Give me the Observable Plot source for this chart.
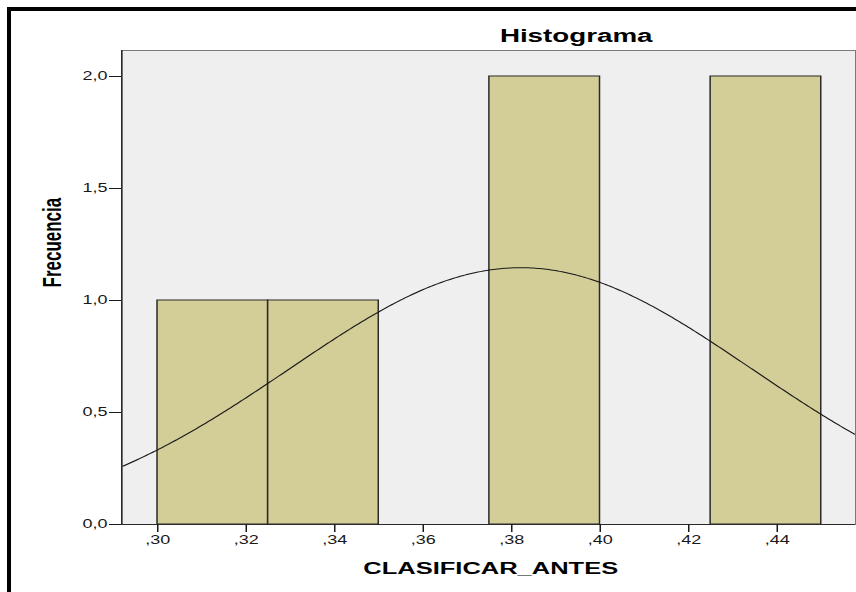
<!DOCTYPE html>
<html><head><meta charset="utf-8">
<script src="https://cdn.jsdelivr.net/npm/d3@7"></script>
<script src="https://cdn.jsdelivr.net/npm/@observablehq/plot@0.6"></script>
<style>
html,body{margin:0;padding:0;background:#fff;width:856px;height:592px;overflow:hidden;}
body{position:relative;font-family:"Liberation Sans",Arial,sans-serif;}
#frameTop{position:absolute;left:7px;top:7px;width:849px;height:4px;background:#000;}
#frameLeft{position:absolute;left:7px;top:7px;width:4px;height:585px;background:#000;}
#chart{position:absolute;left:0;top:0;width:856px;height:592px;}
</style></head><body>
<div id="frameTop"></div><div id="frameLeft"></div>
<div id="chart"></div>
<script>
const title = "Histograma";
const xLabel = "CLASIFICAR_ANTES";
const yLabel = "Frecuencia";
const binLower = [0.300, 0.325, 0.375, 0.425];
const binUpper = [0.325, 0.350, 0.400, 0.450];
const counts = [1, 1, 2, 2];
const xTicks = [0.30, 0.32, 0.34, 0.36, 0.38, 0.40, 0.42, 0.44];
const xTickLabels = [",30", ",32", ",34", ",36", ",38", ",40", ",42", ",44"];
const yTicks = [0, 0.5, 1, 1.5, 2];
const yTickLabels = ["0,0", "0,5", "1,0", "1,5", "2,0"];
// normal curve parameters (SPSS fitted normal)
const curveMean = 0.382;
const curveSD = 0.0522;
const curveN = 6;
const binWidth = 0.025;
const xDomain = [0.29186, 0.45774];
const yDomain = [0, 2.116];

const stretch = 1.5;
const W = 856, H = 592;
const W0 = W / stretch;

const bins = binLower.map((lo, i) => ({x1: lo, x2: binUpper[i], count: counts[i]}));
const amp = curveN * binWidth / (curveSD * Math.sqrt(2 * Math.PI));
const curve = d3.range(xDomain[0], xDomain[1] + 0.0005, 0.0005).map(x => ({
  x, y: amp * Math.exp(-0.5 * ((x - curveMean) / curveSD) ** 2)
}));
const xFmt = d => xTickLabels[xTicks.findIndex(t => Math.abs(t - d) < 1e-9)];
const yFmt = d => yTickLabels[yTicks.findIndex(t => Math.abs(t - d) < 1e-9)];

const mL = 121 / stretch, mR = 1 / stretch;
const svg = Plot.plot({
  width: W0, height: H,
  marginLeft: mL, marginRight: mR, marginTop: 50, marginBottom: 68,
  style: {fontFamily: '"Liberation Sans", Arial, sans-serif', background: "transparent", color: "#1a1a1a"},
  x: {domain: xDomain, axis: null},
  y: {domain: yDomain, axis: null},
  marks: [
    Plot.frame({fill: "#efefef", stroke: null}),
    Plot.rectY(bins, {x1: "x1", x2: "x2", y: "count", fill: "#d3ce97", stroke: "#2a2a2a", strokeWidth: 1}),
    Plot.line(curve, {x: "x", y: "y", stroke: "#1a1a1a", strokeWidth: 1, clip: true}),
    Plot.frame({stroke: "#7a7a7a", fill: null}),
    Plot.ruleY([yDomain[0]], {stroke: "#2a2a2a"}),
    Plot.ruleX([xDomain[0]], {stroke: "#2a2a2a"}),
    Plot.axisX(xTicks, {anchor: "bottom", tickSize: 8, tickPadding: 3, tickFormat: xFmt, fontSize: 12, label: null, color: "#1a1a1a"}),
    Plot.axisY(yTicks, {anchor: "left", tickSize: 8, tickPadding: 1.5, tickFormat: yFmt, fontSize: 12, label: null, color: "#1a1a1a"}),
    Plot.text([title], {frameAnchor: "top", dx: 58.3, dy: -8.3, lineAnchor: "bottom", fontSize: 18.5, fontWeight: "bold", fill: "#000"}),
    Plot.text([xLabel], {frameAnchor: "bottom", dx: 1.3, dy: 49.3, lineAnchor: "bottom", fontSize: 17, fontWeight: "bold", fill: "#000"}),
    Plot.text([yLabel], {frameAnchor: "left", dx: 40 - mL, rotate: -90, lineAnchor: "bottom", fontSize: 17, fontWeight: "bold", fill: "#000"})
  ]
});
svg.setAttribute("width", W);
svg.setAttribute("height", H);
svg.setAttribute("viewBox", `0 0 ${W0} ${H}`);
svg.setAttribute("preserveAspectRatio", "none");
svg.style.width = W + "px";
svg.style.height = H + "px";
svg.style.maxWidth = "none";
svg.style.background = "transparent";
document.getElementById("chart").appendChild(svg);
</script>
</body></html>
